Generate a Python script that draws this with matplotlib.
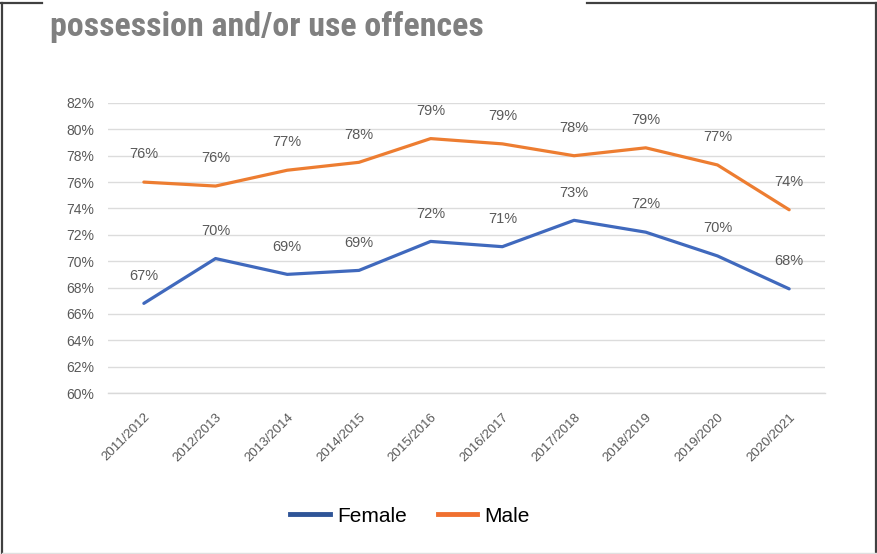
import matplotlib
matplotlib.use("Agg")
import matplotlib.pyplot as plt
from matplotlib.lines import Line2D
from matplotlib.ticker import FuncFormatter, MultipleLocator
from matplotlib import font_manager as fm

# ---- data ----
years = ["2011/2012", "2012/2013", "2013/2014", "2014/2015", "2015/2016",
         "2016/2017", "2017/2018", "2018/2019", "2019/2020", "2020/2021"]
female = [66.8, 70.2, 69.0, 69.3, 71.5, 71.1, 73.1, 72.2, 70.4, 67.9]
male = [76.0, 75.7, 76.9, 77.5, 79.3, 78.9, 78.0, 78.6, 77.3, 73.9]
female_labels = ["67%", "70%", "69%", "69%", "72%", "71%", "73%", "72%", "70%", "68%"]
male_labels = ["76%", "76%", "77%", "78%", "79%", "79%", "78%", "79%", "77%", "74%"]
title_text = "possession and/or use offences"

W, H = 878, 554
fig = plt.figure(figsize=(W / 100, H / 100), dpi=100)
fig.patch.set_facecolor("white")

ax = fig.add_axes([108 / W, 1 - 393 / H, (825 - 108) / W, (393 - 103) / H])
x = list(range(len(years)))

blue = "#4069bd"
orange = "#ed7d31"
ax.plot(x, female, color=blue, lw=2.3, solid_capstyle="round", zorder=3, clip_on=False)
ax.plot(x, male, color=orange, lw=2.3, solid_capstyle="round", zorder=3, clip_on=False)

lab_color = "#595959"
for xi, v, t in zip(x, female, female_labels):
    ax.annotate(t, (xi, v), xytext=(0, 20), textcoords="offset points",
                ha="center", va="center", fontsize=10.5, color=lab_color,
                family="Liberation Sans")
for xi, v, t in zip(x, male, male_labels):
    ax.annotate(t, (xi, v), xytext=(0, 20), textcoords="offset points",
                ha="center", va="center", fontsize=10.5, color=lab_color,
                family="Liberation Sans")

ax.set_xlim(-0.5, len(years) - 0.5)
ax.set_ylim(60, 82)
ax.yaxis.set_major_locator(MultipleLocator(2))
ax.yaxis.set_major_formatter(FuncFormatter(lambda v, p: f"{v:.0f}%"))
ax.grid(axis="y", color="#dcdcdc", lw=1)
ax.set_axisbelow(True)
for s in ["top", "right", "left"]:
    ax.spines[s].set_visible(False)
ax.spines["bottom"].set_color("#d9d9d9")
ax.spines["bottom"].set_linewidth(1)
ax.tick_params(axis="y", length=0, pad=10, labelsize=10, labelcolor=lab_color)
ax.set_xticks(x)
ax.set_xticklabels(years, rotation=45, ha="right", va="top", rotation_mode="anchor",
                   fontsize=9.5, color=lab_color, family="Liberation Sans")
ax.tick_params(axis="x", length=0, pad=13)
for t in ax.get_yticklabels():
    t.set_family("Liberation Sans")

# legend
handles = [Line2D([], [], color="#2f5597", lw=3.5), Line2D([], [], color="#f07030", lw=3.5)]
fig.legend(handles, ["Female", "Male"], loc="center", bbox_to_anchor=(410 / W, 1 - 516 / H),
           ncol=2, frameon=False, prop={"family": "Liberation Sans", "size": 15},
           handlelength=1.9, handletextpad=0.35, columnspacing=1.5)

# title (second line visible) - pick a narrow font if available
names = {f.name for f in fm.fontManager.ttflist}
cands = ["Liberation Sans Narrow", "Roboto Condensed", "Noto Sans Condensed",
         "Open Sans Condensed", "DejaVu Sans Condensed", "Roboto"]
tfam = next((c for c in cands if c in names), "DejaVu Sans")
tsize = 22
if tfam == "Roboto":
    tsize = 20
elif tfam == "DejaVu Sans Condensed":
    tsize = 20
ttl = fig.text(50 / W, 1 - 36 / H, title_text, ha="left", va="baseline", fontsize=tsize,
               fontweight="bold", color="#808080", family=tfam)
# scale to reference width (about 433 px)
fig.canvas.draw()
bb = ttl.get_window_extent()
ttl.set_fontsize(tsize * 433.0 / bb.width)

# frame with broken top edge
fc = "#404040"
lw = 1.6
fig.add_artist(Line2D([2 / W, 2 / W], [0, 1 - 3 / H], color=fc, lw=lw))
fig.add_artist(Line2D([876 / W, 876 / W], [0, 1 - 3 / H], color=fc, lw=lw))
fig.add_artist(Line2D([0, 42 / W], [1 - 3 / H, 1 - 3 / H], color=fc, lw=lw))
fig.add_artist(Line2D([587 / W, 877 / W], [1 - 3 / H, 1 - 3 / H], color=fc, lw=lw))
fig.add_artist(Line2D([2 / W, 876 / W], [1 / H, 1 / H], color="#e0e0e0", lw=1))

fig.savefig("out.png", dpi=100, facecolor="white")
